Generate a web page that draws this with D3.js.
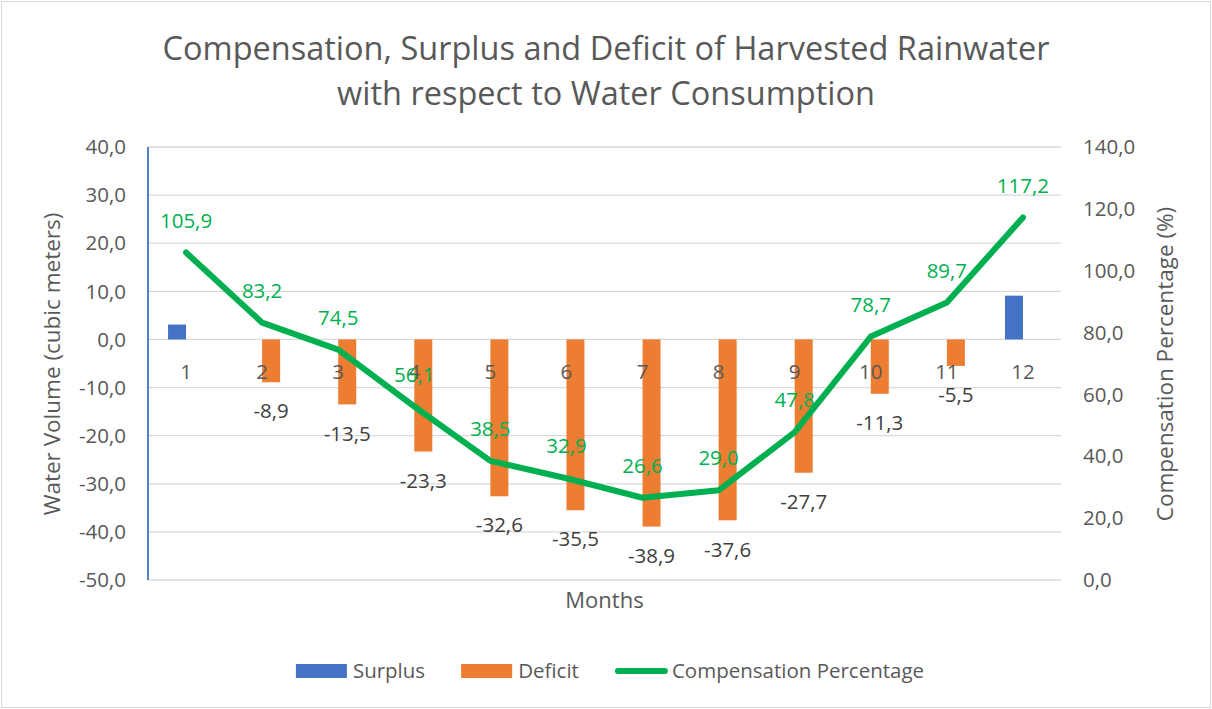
<!DOCTYPE html>
<html>
<head>
<meta charset="utf-8">
<script src="https://cdn.jsdelivr.net/npm/d3@7"></script>
<style>
  body { margin: 0; background: #fff; }
  text { font-family: "Open Sans", "Noto Sans", sans-serif; }
</style>
</head>
<body>
<svg id="chart" width="1212" height="709"></svg>
<script>
var months = ["1", "2", "3", "4", "5", "6", "7", "8", "9", "10", "11", "12"];
var surplus = [3.1, null, null, null, null, null, null, null, null, null, null, 9.1];
var deficit = [null, -8.9, -13.5, -23.3, -32.6, -35.5, -38.9, -37.6, -27.7, -11.3, -5.5, null];
var compensation = [105.9, 83.2, 74.5, 56.1, 38.5, 32.9, 26.6, 29.0, 47.8, 78.7, 89.7, 117.2];
var leftTicks = [40, 30, 20, 10, 0, -10, -20, -30, -40, -50];
var rightTicks = [140, 120, 100, 80, 60, 40, 20, 0];

var svg = d3.select("svg"),
  width = 1212,
  height = 709,
  margin = { top: 147, bottom: 129, left: 148, right: 151 };

// excel style: comma decimal, plain hyphen
var fmt = function(v) { return d3.format(".1f")(v).replace(".", ",").replace("\u2212", "-"); };

var x = d3.scaleBand()
  .domain(months)
  .range([margin.left, width - margin.right]);

var yL = d3.scaleLinear()
  .domain([-50, 40])
  .range([height - margin.bottom, margin.top]);

var yR = d3.scaleLinear()
  .domain([0, 140])
  .range([height - margin.bottom, margin.top]);

var barW = 18,
  labelSize = "20.5px";

svg.append("rect")
  .attr("width", width).attr("height", height).attr("fill", "#fff");
svg.append("rect")
  .attr("x", 1.5).attr("y", 1.5)
  .attr("width", width - 3).attr("height", height - 3)
  .attr("fill", "none").attr("stroke", "#d9d9d9");

// title
svg.append("text")
  .attr("x", 606).attr("y", 60)
  .attr("text-anchor", "middle")
  .attr("fill", "#595959")
  .style("font-size", "32.5px")
  .text("Compensation, Surplus and Deficit of Harvested Rainwater");
svg.append("text")
  .attr("x", 606).attr("y", 105)
  .attr("text-anchor", "middle")
  .attr("fill", "#595959")
  .style("font-size", "32.5px")
  .text("with respect to Water Consumption");

// gridlines
svg.append("g").selectAll("line")
  .data(leftTicks)
  .enter().append("line")
  .attr("x1", margin.left).attr("x2", width - margin.right)
  .attr("y1", function(d) { return yL(d); })
  .attr("y2", function(d) { return yL(d); })
  .attr("stroke", "#d9d9d9").attr("stroke-width", 1.3);

// left axis labels
svg.append("g").selectAll("text")
  .data(leftTicks)
  .enter().append("text")
  .attr("x", 126)
  .attr("y", function(d) { return yL(d); })
  .attr("dy", "0.35em")
  .attr("text-anchor", "end")
  .attr("fill", "#595959")
  .style("font-size", labelSize)
  .text(fmt);

// right axis labels
svg.append("g").selectAll("text")
  .data(rightTicks)
  .enter().append("text")
  .attr("x", 1083)
  .attr("y", function(d) { return yR(d); })
  .attr("dy", "0.35em")
  .attr("fill", "#595959")
  .style("font-size", labelSize)
  .text(fmt);

// axis titles
svg.append("text")
  .attr("transform", "translate(52," + 364 + ") rotate(-90)")
  .attr("text-anchor", "middle")
  .attr("dy", "0.35em")
  .attr("fill", "#595959")
  .style("font-size", "22.5px")
  .text("Water Volume (cubic meters)");
svg.append("text")
  .attr("transform", "translate(1165," + 364 + ") rotate(-90)")
  .attr("text-anchor", "middle")
  .attr("dy", "0.35em")
  .attr("fill", "#595959")
  .style("font-size", "22.5px")
  .text("Compensation Percentage (%)");
svg.append("text")
  .attr("x", (margin.left + width - margin.right) / 2)
  .attr("y", 600)
  .attr("dy", "0.35em")
  .attr("text-anchor", "middle")
  .attr("fill", "#595959")
  .style("font-size", "22px")
  .text("Months");

// bars
svg.append("g").selectAll("rect")
  .data(months.filter(function(m, i) { return surplus[i] != null; }))
  .enter().append("rect")
  .attr("x", function(m) { return x(m) + x.bandwidth() / 2 - barW; })
  .attr("y", function(m) { return yL(surplus[months.indexOf(m)]); })
  .attr("width", barW)
  .attr("height", function(m) { return yL(0) - yL(surplus[months.indexOf(m)]); })
  .attr("fill", "#4472C4");

var defG = svg.append("g");
var defData = months.filter(function(m, i) { return deficit[i] != null; });
defG.selectAll("rect")
  .data(defData)
  .enter().append("rect")
  .attr("x", function(m) { return x(m) + x.bandwidth() / 2; })
  .attr("y", yL(0))
  .attr("width", barW)
  .attr("height", function(m) { return yL(deficit[months.indexOf(m)]) - yL(0); })
  .attr("fill", "#ED7D31");

// category labels
svg.append("g").selectAll("text")
  .data(months)
  .enter().append("text")
  .attr("x", function(m) { return x(m) + x.bandwidth() / 2; })
  .attr("y", yL(0) + 32)
  .attr("dy", "0.35em")
  .attr("text-anchor", "middle")
  .attr("fill", "#595959")
  .style("font-size", labelSize)
  .text(function(m) { return m; });

// left axis line
svg.append("line")
  .attr("x1", margin.left).attr("x2", margin.left)
  .attr("y1", yL(40)).attr("y2", yL(-50))
  .attr("stroke", "#4472C4").attr("stroke-width", 1.8);

// compensation line
var line = d3.line()
  .x(function(d, i) { return x(months[i]) + x.bandwidth() / 2; })
  .y(function(d) { return yR(d); });

svg.append("path")
  .datum(compensation)
  .attr("d", line)
  .attr("fill", "none")
  .attr("stroke", "#00B050")
  .attr("stroke-width", 6)
  .attr("stroke-linejoin", "round")
  .attr("stroke-linecap", "round");

// deficit labels
defG.selectAll("text")
  .data(defData)
  .enter().append("text")
  .attr("x", function(m) { return x(m) + x.bandwidth() / 2 + barW / 2; })
  .attr("y", function(m) { return yL(deficit[months.indexOf(m)]) + 29; })
  .attr("dy", "0.35em")
  .attr("text-anchor", "middle")
  .attr("fill", "#404040")
  .style("font-size", labelSize)
  .text(function(m) { return fmt(deficit[months.indexOf(m)]); });

// compensation labels
svg.append("g").selectAll("text")
  .data(compensation)
  .enter().append("text")
  .attr("x", function(d, i) { return x(months[i]) + x.bandwidth() / 2; })
  .attr("y", function(d) { return yR(d) - 32; })
  .attr("dy", "0.35em")
  .attr("text-anchor", "middle")
  .attr("fill", "#00B050")
  .style("font-size", labelSize)
  .text(fmt);

// legend
var legendItems = [
  { name: "Surplus", color: "#4472C4", type: "rect" },
  { name: "Deficit", color: "#ED7D31", type: "rect" },
  { name: "Compensation Percentage", color: "#00B050", type: "line" }
];
var legend = svg.append("g");
var lx = 0;
legendItems.forEach(function(it) {
  var g = legend.append("g").attr("transform", "translate(" + lx + ",0)");
  if (it.type == "rect") {
    g.append("rect").attr("x", 0).attr("y", -7).attr("width", 51).attr("height", 14).attr("fill", it.color);
  } else {
    g.append("line").attr("x1", 3).attr("x2", 50).attr("y1", 0).attr("y2", 0)
      .attr("stroke", it.color).attr("stroke-width", 6).attr("stroke-linecap", "round");
  }
  var t = g.append("text")
    .attr("x", 57).attr("dy", "0.35em")
    .attr("fill", "#595959")
    .style("font-size", "20.5px")
    .text(it.name);
  lx += 57 + t.node().getComputedTextLength() + 36;
});
lx -= 36;
legend.attr("transform", "translate(" + (610 - lx / 2) + ",671)");
</script>
</body>
</html>
